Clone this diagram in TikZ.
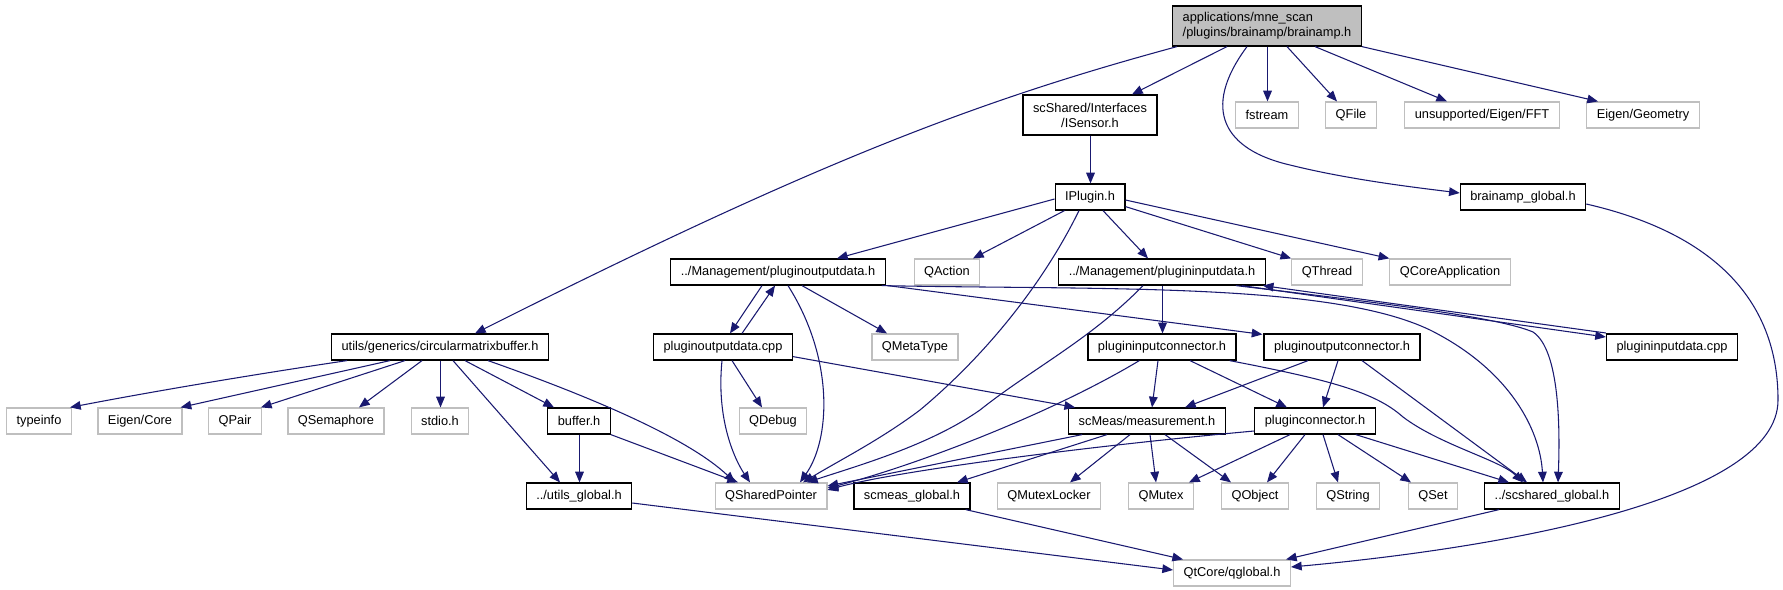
\documentclass[tikz,border=0pt]{standalone}
\usepackage{fontspec}
\setmainfont{Liberation Sans}
\usetikzlibrary{arrows.meta,calc}
\definecolor{edgeblue}{RGB}{25,25,112}
\definecolor{extgray}{RGB}{191,191,191}
\definecolor{rootgray}{RGB}{191,191,191}

\begin{document}
\begin{tikzpicture}[x=0.75pt,y=-0.75pt,
    doc/.style={rectangle,draw=black,line width=0.9pt,inner xsep=7.5pt,inner ysep=0pt,
      minimum height=19.5pt,font=\fontsize{9.6}{11.3}\selectfont},
    ext/.style={doc,draw=extgray},
    rootbox/.style={doc,fill=rootgray,minimum height=30pt},
    inc/.style={draw=edgeblue,line width=0.8pt,-{Triangle[length=8pt,width=6.5pt]}}]
    \useasboundingbox (0,0) rectangle (1783,589);
    \node[rootbox,align=left] (root) at (1267,26) {applications/mne\_scan\\/plugins/brainamp/brainamp.h};
    \node[doc,align=center,minimum height=30pt] (isensor) at (1090,115) {scShared/Interfaces\\/ISensor.h};
    \node[ext] (fstream) at (1267,115) {fstream};
    \node[ext] (qfile) at (1351,115) {QFile};
    \node[ext] (fft) at (1482,115) {unsupported/Eigen/FFT};
    \node[ext] (geom) at (1643,115) {Eigen/Geometry};
    \node[doc] (iplugin) at (1090,197) {IPlugin.h};
    \node[doc] (bgl) at (1523,197) {brainamp\_global.h};
    \node[doc] (podh) at (778,272) {../Management/pluginoutputdata.h};
    \node[ext] (qaction) at (947,272) {QAction};
    \node[doc] (pidh) at (1162,272) {../Management/plugininputdata.h};
    \node[ext] (qthread) at (1327,272) {QThread};
    \node[ext] (qcoreapp) at (1450,272) {QCoreApplication};
    \node[doc] (cmb) at (440,347) {utils/generics/circularmatrixbuffer.h};
    \node[doc] (podcpp) at (723,347) {pluginoutputdata.cpp};
    \node[ext] (qmetatype) at (915,347) {QMetaType};
    \node[doc] (picon) at (1162,347) {plugininputconnector.h};
    \node[doc] (pocon) at (1342,347) {pluginoutputconnector.h};
    \node[doc] (pidcpp) at (1672,347) {plugininputdata.cpp};
    \node[ext] (typeinfo) at (39,421) {typeinfo};
    \node[ext] (eigencore) at (140,421) {Eigen/Core};
    \node[ext] (qpair) at (235,421) {QPair};
    \node[ext] (qsem) at (336,421) {QSemaphore};
    \node[ext] (stdio) at (440,421) {stdio.h};
    \node[doc] (buffer) at (579,421) {buffer.h};
    \node[ext] (qdebug) at (773,421) {QDebug};
    \node[doc] (meas) at (1147,421) {scMeas/measurement.h};
    \node[doc] (pconn) at (1315,421) {pluginconnector.h};
    \node[doc] (utilsg) at (579,496) {../utils\_global.h};
    \node[ext] (qsp) at (771,496) {QSharedPointer};
    \node[doc] (scmeasg) at (912,496) {scmeas\_global.h};
    \node[ext] (qmutexlocker) at (1049,496) {QMutexLocker};
    \node[ext] (qmutex) at (1161,496) {QMutex};
    \node[ext] (qobject) at (1255,496) {QObject};
    \node[ext] (qstring) at (1348,496) {QString};
    \node[ext] (qset) at (1433,496) {QSet};
    \node[doc] (scsharedg) at (1552,496) {../scshared\_global.h};
    \node[ext] (qtcore) at (1232,573) {QtCore/qglobal.h};
    \draw[inc] ($(root.south)+(-90,0)$) .. controls (980,100) and (820,160) .. ($(cmb.north)+(35,0)$);
    \draw[inc] ($(root.south)+(-40,0)$) -- ($(isensor.north)+(42,0)$);
    \draw[inc] ($(root.south)+(-20,0)$) .. controls (1200,110) and (1225,150) .. (1290,165) .. controls (1350,180) and (1420,188) .. ($(bgl.west)+(0,-4)$);
    \draw[inc] ($(root.south)+(0.5,0)$) -- ($(fstream.north)+(0.5,0)$);
    \draw[inc] ($(root.south)+(20,0)$) -- ($(qfile.north)+(-14,0)$);
    \draw[inc] ($(root.south)+(48,0)$) -- ($(fft.north)+(-35,0)$);
    \draw[inc] (root.south east) -- ($(geom.north)+(-45,0)$);
    \draw[inc] ($(isensor.south)+(0.5,0)$) -- ($(iplugin.north)+(0.5,0)$);
    \draw[inc] ($(iplugin.west)+(0,2)$) -- ($(podh.north)+(59,0)$);
    \draw[inc] ($(iplugin.south west)+(10,0)$) -- ($(qaction.north)+(26,0)$);
    \draw[inc] ($(iplugin.south)+(-11,0)$) .. controls (1040,290) and (980,360) .. (920,410) .. controls (880,440) and (840,460) .. ($(qsp.north)+(32,0)$);
    \draw[inc] ($(iplugin.south)+(13,0)$) -- ($(pidh.north)+(-14,0)$);
    \draw[inc] ($(iplugin.south east)+(0,-4)$) -- (qthread.north west);
    \draw[inc] ($(iplugin.east)+(0,3)$) -- (qcoreapp.north west);
    \draw[inc] ($(podh.south)+(-16,0)$) -- ($(podcpp.north)+(7,0)$);
    \draw[inc] ($(podcpp.north)+(19,0)$) -- ($(podh.south)+(-3,0)$);
    \draw[inc] ($(podh.south)+(10,0)$) .. controls (835,360) and (830,440) .. ($(qsp.north)+(29,0)$);
    \draw[inc] ($(podh.south)+(24,0)$) -- ($(qmetatype.north)+(-28,0)$);
    \draw[inc] ($(podh.south east)+(2,0)$) -- ($(pocon.north west)+(-1,1)$);
    \draw[inc] ($(podh.south east)+(-4,0)$) .. controls (1100,290) and (1330,282) .. (1430,330) .. controls (1510,370) and (1540,430) .. ($(scsharedg.north)+(-9,0)$);
    \draw[inc] ($(pidh.south)+(0.5,0)$) -- ($(picon.north)+(0.5,0)$);
    \draw[inc] ($(pidh.south)+(-19,0)$) .. controls (1090,340) and (1030,370) .. (980,410) .. controls (930,445) and (860,465) .. ($(qsp.north)+(36,0)$);
    \draw[inc] ($(pidh.south east)+(-24,0)$) -- ($(pidcpp.west)+(0,-10)$);
    \draw[inc] ($(pidcpp.west)+(0,-14)$) -- ($(pidh.south east)+(-3,0)$);
    \draw[inc] ($(pidh.south east)+(-30,0)$) .. controls (1400,305) and (1500,318) .. (1533,332) .. controls (1560,350) and (1560,430) .. ($(scsharedg.north)+(6,0)$);
    \draw[inc] ($(picon.south west)+(52,0)$) .. controls (1040,420) and (900,470) .. ($(qsp.east)+(0,-8)$);
    \draw[inc] ($(picon.south)+(-4,0)$) -- ($(meas.north)+(5,0)$);
    \draw[inc] ($(picon.south)+(28,0)$) -- ($(pconn.north)+(-28,0)$);
    \draw[inc] ($(picon.south east)+(-7,0)$) .. controls (1330,380) and (1375,392) .. (1403,417) .. controls (1440,445) and (1500,460) .. ($(scsharedg.north)+(-29,0)$);
    \draw[inc] ($(pocon.south)+(-34,0)$) -- ($(meas.north)+(38,0)$);
    \draw[inc] ($(pocon.south)+(-4,0)$) -- ($(pconn.north)+(8,0)$);
    \draw[inc] ($(pocon.south)+(20,0)$) -- ($(scsharedg.north)+(-25,0)$);
    \draw[inc] ($(podcpp.south)+(-1,0)$) .. controls (716,420) and (735,460) .. ($(qsp.north)+(-21,0)$);
    \draw[inc] ($(podcpp.south)+(9,0)$) -- ($(qdebug.north)+(-11,0)$);
    \draw[inc] ($(podcpp.south east)+(0,-4)$) -- ($(meas.north west)+(7,0)$);
    \draw[inc] ($(cmb.south)+(-93,0)$) .. controls (250,375) and (150,392) .. ($(typeinfo.north east)+(-2,0)$);
    \draw[inc] ($(cmb.south)+(-50,0)$) -- ($(eigencore.north east)+(-2,0)$);
    \draw[inc] ($(cmb.south)+(-35,0)$) -- ($(qpair.north east)+(-1,0)$);
    \draw[inc] ($(cmb.south)+(-18,0)$) -- ($(qsem.north)+(23,0)$);
    \draw[inc] ($(cmb.south)+(0.5,0)$) -- ($(stdio.north)+(0.5,0)$);
    \draw[inc] ($(cmb.south)+(25,0)$) -- ($(buffer.north)+(-25,0)$);
    \draw[inc] ($(cmb.south)+(13,0)$) -- ($(utilsg.north)+(-19,0)$);
    \draw[inc] ($(cmb.south)+(48,0)$) .. controls (600,400) and (690,440) .. ($(qsp.north)+(-36,0)$);
    \draw[inc] ($(buffer.south)+(0.5,0)$) -- ($(utilsg.north)+(0.5,0)$);
    \draw[inc] (buffer.south east) -- ($(qsp.north)+(-33,0)$);
    \draw[inc] ($(meas.south west)+(14,0)$) -- ($(qsp.east)+(0,-10)$);
    \draw[inc] ($(meas.south)+(-40,0)$) -- ($(scmeasg.north)+(45,0)$);
    \draw[inc] ($(meas.south)+(-17,0)$) -- ($(qmutexlocker.north)+(21,0)$);
    \draw[inc] ($(meas.south)+(3,0)$) -- ($(qmutex.north)+(-5,0)$);
    \draw[inc] ($(meas.south)+(18,0)$) -- ($(qobject.north)+(-24,0)$);
    \draw[inc] ($(pconn.west)+(0,10)$) .. controls (1100,445) and (900,470) .. ($(qsp.east)+(0,-6)$);
    \draw[inc] ($(pconn.south)+(-25,0)$) -- ($(qmutex.north)+(28,0)$);
    \draw[inc] ($(pconn.south)+(-10,0)$) -- ($(qobject.north)+(12,0)$);
    \draw[inc] ($(pconn.south)+(8,0)$) -- ($(qstring.north)+(-10,0)$);
    \draw[inc] ($(pconn.south)+(23,0)$) -- ($(qset.north)+(-22,0)$);
    \draw[inc] ($(pconn.south east)+(-20,0)$) -- ($(scsharedg.north)+(-43,0)$);
    \draw[inc] ($(utilsg.east)+(0,7)$) -- ($(qtcore.west)+(0,-3)$);
    \draw[inc] ($(scmeasg.south east)+(-5,0)$) -- ($(qtcore.north west)+(10,0)$);
    \draw[inc] ($(scsharedg.south west)+(15,0)$) -- ($(qtcore.north east)+(-5,0)$);
    \draw[inc] ($(bgl.east)+(0,7)$) .. controls (1700,230) and (1778,290) .. (1778,400) .. controls (1778,500) and (1500,548) .. ($(qtcore.east)+(0,-6)$);
\end{tikzpicture}
\end{document}
